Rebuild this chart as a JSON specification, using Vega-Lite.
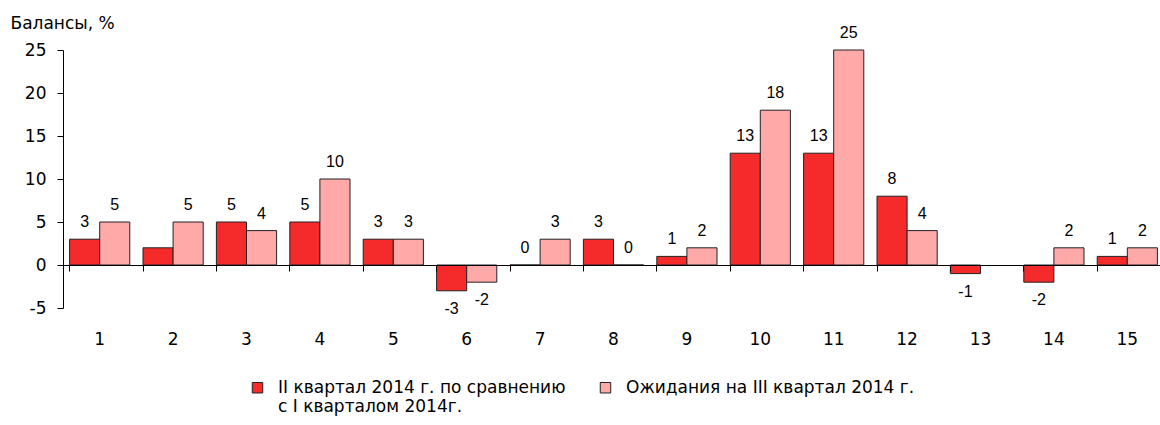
{
  "$schema": "https://vega.github.io/schema/vega-lite/v6.json",
  "width": 1101,
  "height": 258,
  "autosize": {"type": "none"},
  "padding": {"left": 63, "top": 50, "right": 0, "bottom": 117},
  "background": "white",
  "config": {
    "view": {"stroke": null},
    "font": "DejaVu Sans"
  },
  "data": {
    "values": [
      {"cat": 1, "series": "II квартал 2014 г. по сравнению с I кварталом 2014г.", "value": 3, "label": "3"},
      {"cat": 1, "series": "Ожидания на III квартал 2014 г.", "value": 5, "label": "5"},
      {"cat": 2, "series": "II квартал 2014 г. по сравнению с I кварталом 2014г.", "value": 2, "label": null},
      {"cat": 2, "series": "Ожидания на III квартал 2014 г.", "value": 5, "label": "5"},
      {"cat": 3, "series": "II квартал 2014 г. по сравнению с I кварталом 2014г.", "value": 5, "label": "5"},
      {"cat": 3, "series": "Ожидания на III квартал 2014 г.", "value": 4, "label": "4"},
      {"cat": 4, "series": "II квартал 2014 г. по сравнению с I кварталом 2014г.", "value": 5, "label": "5"},
      {"cat": 4, "series": "Ожидания на III квартал 2014 г.", "value": 10, "label": "10"},
      {"cat": 5, "series": "II квартал 2014 г. по сравнению с I кварталом 2014г.", "value": 3, "label": "3"},
      {"cat": 5, "series": "Ожидания на III квартал 2014 г.", "value": 3, "label": "3"},
      {"cat": 6, "series": "II квартал 2014 г. по сравнению с I кварталом 2014г.", "value": -3, "label": "-3"},
      {"cat": 6, "series": "Ожидания на III квартал 2014 г.", "value": -2, "label": "-2"},
      {"cat": 7, "series": "II квартал 2014 г. по сравнению с I кварталом 2014г.", "value": 0, "label": "0"},
      {"cat": 7, "series": "Ожидания на III квартал 2014 г.", "value": 3, "label": "3"},
      {"cat": 8, "series": "II квартал 2014 г. по сравнению с I кварталом 2014г.", "value": 3, "label": "3"},
      {"cat": 8, "series": "Ожидания на III квартал 2014 г.", "value": 0, "label": "0"},
      {"cat": 9, "series": "II квартал 2014 г. по сравнению с I кварталом 2014г.", "value": 1, "label": "1"},
      {"cat": 9, "series": "Ожидания на III квартал 2014 г.", "value": 2, "label": "2"},
      {"cat": 10, "series": "II квартал 2014 г. по сравнению с I кварталом 2014г.", "value": 13, "label": "13"},
      {"cat": 10, "series": "Ожидания на III квартал 2014 г.", "value": 18, "label": "18"},
      {"cat": 11, "series": "II квартал 2014 г. по сравнению с I кварталом 2014г.", "value": 13, "label": "13"},
      {"cat": 11, "series": "Ожидания на III квартал 2014 г.", "value": 25, "label": "25"},
      {"cat": 12, "series": "II квартал 2014 г. по сравнению с I кварталом 2014г.", "value": 8, "label": "8"},
      {"cat": 12, "series": "Ожидания на III квартал 2014 г.", "value": 4, "label": "4"},
      {"cat": 13, "series": "II квартал 2014 г. по сравнению с I кварталом 2014г.", "value": -1, "label": "-1"},
      {"cat": 14, "series": "II квартал 2014 г. по сравнению с I кварталом 2014г.", "value": -2, "label": "-2"},
      {"cat": 14, "series": "Ожидания на III квартал 2014 г.", "value": 2, "label": "2"},
      {"cat": 15, "series": "II квартал 2014 г. по сравнению с I кварталом 2014г.", "value": 1, "label": "1"},
      {"cat": 15, "series": "Ожидания на III квартал 2014 г.", "value": 2, "label": "2"}
    ]
  },
  "encoding": {
    "x": {
      "field": "cat",
      "type": "ordinal",
      "scale": {"paddingInner": 0.18, "paddingOuter": 0.09},
      "axis": {
        "title": null,
        "offset": -43,
        "labelAngle": 0,
        "bandPosition": 0,
        "tickSize": 6,
        "tickColor": "#000",
        "domainColor": "#000",
        "labelPadding": 60,
        "labelFontSize": 17,
        "labelColor": "#000",
        "labelFont": "DejaVu Sans",
        "zindex": 1
      }
    },
    "xOffset": {
      "field": "series",
      "type": "nominal",
      "scale": {"paddingInner": 0, "paddingOuter": 0}
    }
  },
  "layer": [
    {
      "mark": {"type": "bar", "stroke": "#222", "strokeWidth": 1},
      "encoding": {
        "y": {
          "field": "value",
          "type": "quantitative",
          "scale": {"domain": [-5, 25], "nice": false},
          "axis": {
            "values": [-5, 0, 5, 10, 15, 20, 25],
            "labelExpr": "datum.value < 0 ? '-' + abs(datum.value) : '' + datum.value",
            "grid": false,
            "tickSize": 6,
            "tickColor": "#000",
            "domainColor": "#000",
            "labelPadding": 11,
            "labelFontSize": 17,
            "labelColor": "#000",
            "labelFont": "DejaVu Sans",
            "title": "Балансы, %",
            "titleAngle": 0,
            "titleX": -53,
            "titleY": -27,
            "titleAlign": "left",
            "titleBaseline": "middle",
            "titleFontSize": 17,
            "titleFontWeight": "normal",
            "titleColor": "#000",
            "titleFont": "DejaVu Sans"
          }
        },
        "color": {
          "field": "series",
          "type": "nominal",
          "scale": {
            "domain": ["II квартал 2014 г. по сравнению с I кварталом 2014г.", "Ожидания на III квартал 2014 г."],
            "range": ["#f52b2b", "#ffa9a9"]
          },
          "legend": {
            "title": null,
            "orient": "none",
            "direction": "horizontal",
            "legendX": 186,
            "legendY": 329,
            "symbolType": "square",
            "symbolSize": 110,
            "symbolStrokeColor": "#222",
            "symbolStrokeWidth": 1,
            "symbolOpacity": 1,
            "labelFontSize": 17,
            "labelFont": "DejaVu Sans",
            "labelColor": "#000",
            "labelLimit": 500,
            "columnPadding": 31,
            "labelOffset": 12,
            "labelExpr": "indexof(datum.label, 'II квартал') == 0 ? ['II квартал 2014 г. по сравнению', 'с I кварталом 2014г.'] : [datum.label, '']"
          }
        }
      }
    },
    {
      "transform": [{"filter": "datum.label != null && datum.value >= 0"}],
      "mark": {"type": "text", "baseline": "bottom", "dy": -9, "fontSize": 16, "font": "Liberation Sans", "color": "#000"},
      "encoding": {
        "y": {"field": "value", "type": "quantitative"},
        "text": {"field": "label"}
      }
    },
    {
      "transform": [{"filter": "datum.label != null && datum.value < 0"}],
      "mark": {"type": "text", "baseline": "top", "dy": 10, "fontSize": 16, "font": "Liberation Sans", "color": "#000"},
      "encoding": {
        "y": {"field": "value", "type": "quantitative"},
        "text": {"field": "label"}
      }
    }
  ]
}
